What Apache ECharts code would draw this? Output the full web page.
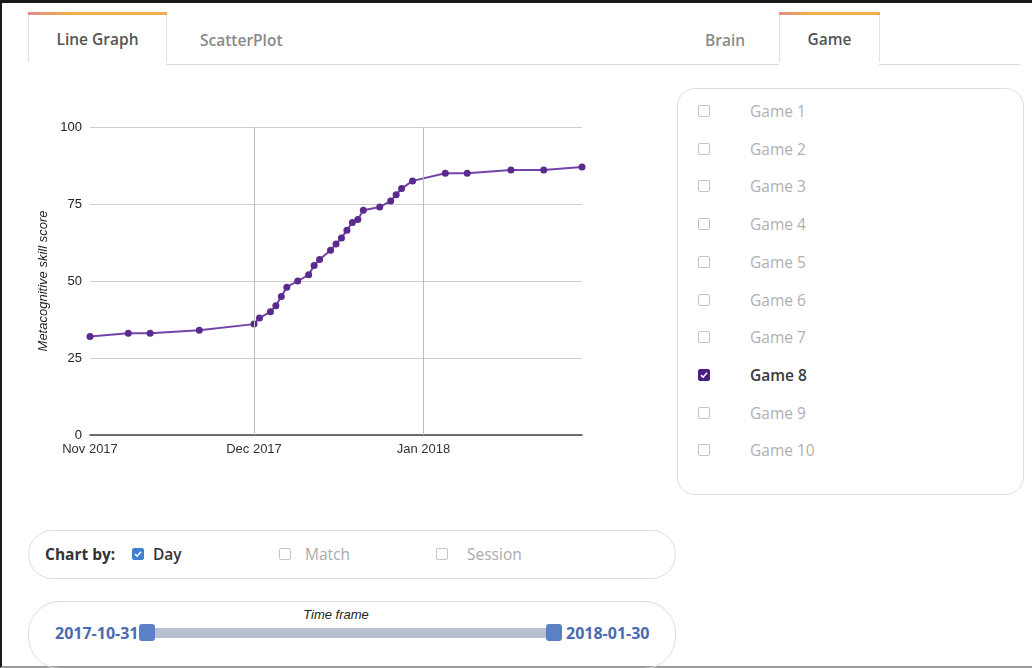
<!DOCTYPE html>
<html>
<head>
<meta charset="utf-8">
<title>Metacognitive skill score</title>
<script src="https://cdn.jsdelivr.net/npm/echarts@6/dist/echarts.min.js"></script>
<style>
  html, body { margin: 0; padding: 0; }
  body {
    width: 1032px; height: 668px; position: relative; overflow: hidden;
    background: #fff; font-family: "Open Sans", Lato, sans-serif;
  }
  .frame {
    position: absolute; left: 0; top: 0; width: 1030px; height: 663px;
    border-top: 3px solid #1a1a1a; border-left: 2px solid #1a1a1a;
    border-bottom: 2px solid #9a9a9a;
  }
  .tabline { position: absolute; top: 64px; height: 1px; background: #dcdcdc; }
  .tab {
    position: absolute; top: 12px; height: 50px; box-sizing: border-box;
    border-left: 1px solid #e2e2e2; border-right: 1px solid #e2e2e2;
    background: #fff; text-align: center; line-height: 54px;
    font-size: 15.5px; font-weight: 600; color: #555;
  }
  .tab::before {
    content: ""; position: absolute; left: -1px; right: -1px; top: 0; height: 3px;
    background: linear-gradient(to right, #e58a86, #f2ad4e 30%, #f2ad4e);
  }
  .tablabel { position: absolute; top: 29px; font-size: 15.5px; font-weight: 600; color: #8a8a8a; }
  .panel {
    position: absolute; left: 677px; top: 88px; width: 347px; height: 407px;
    box-sizing: border-box; border: 1px solid #dedede; border-radius: 18px;
  }
  .row { position: absolute; left: 20px; height: 20px; line-height: 20px; font-size: 15.5px; color: #b0b0b0; }
  .row .box { position: absolute; left: 0; top: 4px; }
  .row span { position: absolute; left: 52px; white-space: nowrap; }
  .row.on { color: #3a3a3a; font-weight: 600; }
  .box {
    width: 12px; height: 12px; box-sizing: border-box; border: 1px solid #c4c4c4;
    border-radius: 2px; background: #fff;
  }
  .box.purple { background: #4a1f82; border-color: #4a1f82; }
  .box.blue { background: #3f7fcf; border-color: #3f7fcf; }
  .box svg { display: block; }
  .pill {
    position: absolute; left: 28px; width: 648px; box-sizing: border-box;
    border: 1px solid #dedede; border-radius: 26px;
  }
  .opt { position: absolute; top: 544px; height: 20px; line-height: 20px; font-size: 15.5px; }
  .opt .box { position: absolute; top: 4px; }
  .tf { position: absolute; width: 648px; top: 607px; text-align: center;
    font: italic 13px "Liberation Sans", Arial, sans-serif; color: #222; }
  .track { position: absolute; left: 148px; top: 628px; width: 406px; height: 10px; background: #b8bfd1; }
  .handle { position: absolute; top: 624px; width: 16px; height: 17px; border-radius: 3px; background: #5a80c6; }
  .date { position: absolute; top: 622px; font-size: 16px; font-weight: 700; color: #4a6bb1; }
  #chart { position: absolute; left: 0; top: 90px; width: 620px; height: 380px; }
</style>
</head>
<body>
<div class="frame"></div>

<div class="tabline" style="left:166px;width:613px"></div>
<div class="tabline" style="left:879px;width:141px"></div>
<div class="tab" style="left:28px;width:139px">Line Graph</div>
<div class="tablabel" style="left:200px">ScatterPlot</div>
<div class="tablabel" style="left:705px">Brain</div>
<div class="tab" style="left:779px;width:101px">Game</div>

<div id="chart"></div>

<div class="panel" id="games"></div>

<div class="pill" style="top:530px;height:49px"></div>
<div class="opt" style="left:45px;font-weight:700;color:#333">Chart by:</div>
<div class="opt" style="left:132px"><div class="box blue" style="left:0"><svg width="10" height="10" viewBox="0 0 10 10"><path d="M2 5.2 L4.1 7.2 L8 2.8" stroke="#fff" stroke-width="1.6" fill="none"/></svg></div></div>
<div class="opt" style="left:153px;font-weight:600;color:#333">Day</div>
<div class="opt" style="left:279px"><div class="box" style="left:0"></div></div>
<div class="opt" style="left:305px;color:#aaa">Match</div>
<div class="opt" style="left:436px"><div class="box" style="left:0"></div></div>
<div class="opt" style="left:467px;color:#aaa">Session</div>

<div class="pill" style="top:601px;height:68px;border-radius:32px"></div>
<div class="tf" style="left:12px">Time frame</div>
<div class="track"></div>
<div class="handle" style="left:139px"></div>
<div class="handle" style="left:546px"></div>
<div class="date" style="left:55px" id="d0"></div>
<div class="date" style="left:566px" id="d1"></div>

<script>
// Game 8 score by day
const dates = [
  '2017-11-01', '2017-11-08', '2017-11-12', '2017-11-21', '2017-12-01',
  '2017-12-02', '2017-12-04', '2017-12-05', '2017-12-06', '2017-12-07',
  '2017-12-09', '2017-12-11', '2017-12-12', '2017-12-13', '2017-12-15',
  '2017-12-16', '2017-12-17', '2017-12-18', '2017-12-19', '2017-12-20',
  '2017-12-21', '2017-12-24', '2017-12-26', '2017-12-27', '2017-12-28',
  '2017-12-30', '2018-01-05', '2018-01-09', '2018-01-17', '2018-01-23',
  '2018-01-30'
];
const scores = [
  32, 33, 33, 34, 36,
  38, 40, 42, 45, 48,
  50, 52, 55, 57, 60,
  62, 64, 66.5, 69, 70,
  73, 74, 76, 78, 80,
  82.5, 85, 85, 86, 86,
  87
];
const xTickDates = ['2017-11-01', '2017-12-01', '2018-01-01'];
const xTickLabels = ['Nov 2017', 'Dec 2017', 'Jan 2018'];
const yTicks = [0, 25, 50, 75, 100];
const games = ['Game 1', 'Game 2', 'Game 3', 'Game 4', 'Game 5',
  'Game 6', 'Game 7', 'Game 8', 'Game 9', 'Game 10'];
const selectedGame = 'Game 8';
const timeFrame = ['2017-10-31', '2018-01-30'];

function toTime(s) {
  const [y, m, d] = s.split('-').map(Number);
  return new Date(y, m - 1, d).getTime();
}

// side panel
const panel = document.getElementById('games');
games.forEach((g, i) => {
  const row = document.createElement('div');
  row.className = 'row' + (g === selectedGame ? ' on' : '');
  row.style.top = (12 + i * 37.7) + 'px';
  const check = g === selectedGame
    ? '<div class="box purple"><svg width="10" height="10" viewBox="0 0 10 10"><path d="M2 5.2 L4.1 7.2 L8 2.8" stroke="#fff" stroke-width="1.6" fill="none"/></svg></div>'
    : '<div class="box"></div>';
  row.innerHTML = check + '<span>' + g + '</span>';
  panel.appendChild(row);
});
document.getElementById('d0').textContent = timeFrame[0];
document.getElementById('d1').textContent = timeFrame[1];

const tickTimes = xTickDates.map(toTime);
const chart = echarts.init(document.getElementById('chart'), null, { renderer: 'canvas' });

chart.setOption({
  animation: false,
  textStyle: { fontFamily: '"Liberation Sans", Arial, sans-serif' },
  grid: { left: 90, right: 38, top: 37, bottom: 35 },
  xAxis: {
    // timestamps on a value axis so the month labels can be placed exactly
    type: 'value',
    min: toTime('2017-11-01'),
    max: toTime('2018-01-30'),
    axisLine: { show: true, lineStyle: { color: '#444', width: 1.5 } },
    axisTick: { show: false },
    splitLine: { show: false },
    axisLabel: {
      customValues: tickTimes,
      formatter: (v) => xTickLabels[tickTimes.indexOf(v)] || '',
      color: '#333', fontSize: 13, margin: 8
    }
  },
  yAxis: {
    type: 'value',
    min: yTicks[0], max: yTicks[yTicks.length - 1], interval: 25,
    name: 'Metacognitive skill score',
    nameLocation: 'middle', nameGap: 39,
    nameTextStyle: { fontStyle: 'italic', fontSize: 13, color: '#222' },
    axisLine: { show: false },
    axisTick: { show: false },
    axisLabel: { color: '#222', fontSize: 13, margin: 8 },
    splitLine: { lineStyle: { color: '#cfcfcf', width: 1 } }
  },
  series: [{
    type: 'line',
    name: selectedGame,
    data: dates.map((d, i) => [toTime(d), scores[i]]),
    symbol: 'circle',
    symbolSize: 7,
    lineStyle: { color: '#7443a6', width: 2 },
    itemStyle: { color: '#5b2a8e' },
    markLine: {
      silent: true,
      symbol: 'none',
      label: { show: false },
      lineStyle: { color: '#bdbdbd', width: 1, type: 'solid' },
      data: tickTimes.slice(1).map((t) => ({ xAxis: t }))
    }
  }]
});

window.addEventListener('resize', chart.resize);
</script>
</body>
</html>
